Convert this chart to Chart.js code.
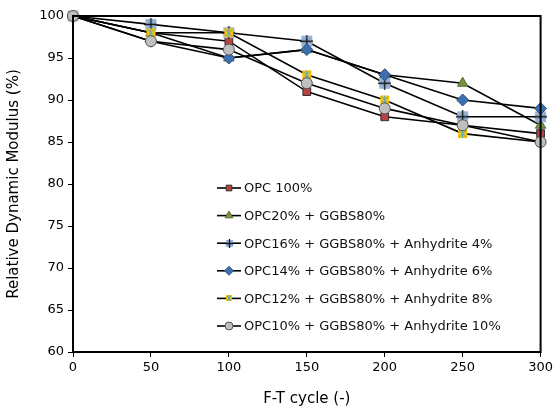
<!DOCTYPE html>
<html lang="en">
<head>
  <meta charset="UTF-8">
  <title>Relative Dynamic Modulus</title>
  <script src="https://cdn.jsdelivr.net/npm/chart.js"></script>
  <style>
    html, body { margin: 0; padding: 0; background: #fff; }
    #wrap { width: 556px; height: 408px; }
  </style>
</head>
<body>
  <div id="wrap"><canvas id="grafico" width="556" height="408"></canvas></div>
  <script>
    const ciclos = [0, 50, 100, 150, 200, 250, 300];
    const opc100 = [100, 98, 97, 91, 88, 87, 86];
    const opc20 = [100, 98, 95, 96, 93, 92, 87];
    const anh4 = [100, 99, 98, 97, 92, 88, 88];
    const anh6 = [100, 97, 95, 96, 93, 90, 89];
    const anh8 = [100, 98, 98, 93, 90, 86, 85];
    const anh10 = [100, 97, 96, 92, 89, 87, 85];
    const nomes = [
      'OPC 100%',
      'OPC20% + GGBS80%',
      'OPC16% + GGBS80% + Anhydrite 4%',
      'OPC14% + GGBS80% + Anhydrite 6%',
      'OPC12% + GGBS80% + Anhydrite 8%',
      'OPC10% + GGBS80% + Anhydrite 10%'
    ];

    // marcadores personalizados
    function quadradoCruz(t) {
      const c = document.createElement('canvas');
      c.width = t; c.height = t;
      const g = c.getContext('2d');
      const m = t / 2;
      g.fillStyle = '#95B3D7';
      g.fillRect(1, 1, t - 2, t - 2);
      g.strokeStyle = '#111';
      g.lineWidth = 1.3;
      g.beginPath();
      g.moveTo(m, 0); g.lineTo(m, t);
      g.moveTo(0, m); g.lineTo(t, m);
      g.stroke();
      return c;
    }
    function quadradoEstrela(t) {
      const c = document.createElement('canvas');
      c.width = t; c.height = t;
      const g = c.getContext('2d');
      const m = t / 2;
      g.fillStyle = '#FFC000';
      g.fillRect(1, 1, t - 2, t - 2);
      g.strokeStyle = '#4BACC6';
      g.lineWidth = 1;
      g.beginPath();
      g.moveTo(m, 1); g.lineTo(m, t - 1);
      g.moveTo(2, 2); g.lineTo(t - 2, t - 2);
      g.moveTo(t - 2, 2); g.lineTo(2, t - 2);
      g.stroke();
      return c;
    }

    const pontos = xs => ys => xs.map((x, i) => ({ x: x, y: ys[i] }));
    const p = pontos(ciclos);

    const estilos = [
      { pointStyle: 'rect', pointRadius: 5.5, pointBackgroundColor: '#B8423F', pointBorderColor: '#333' },
      { pointStyle: 'triangle', pointRadius: 6, pointBackgroundColor: '#77933C', pointBorderColor: '#556B2F' },
      { pointStyle: quadradoCruz(13), pointRadius: 6, legendaImg: quadradoCruz(9) },
      { pointStyle: 'rectRot', pointRadius: 6, pointBackgroundColor: '#3F6FAE', pointBorderColor: '#2C4F7C' },
      { pointStyle: quadradoEstrela(11), pointRadius: 5, legendaImg: quadradoEstrela(8) },
      { pointStyle: 'circle', pointRadius: 5.5, pointBackgroundColor: '#BFBFBF', pointBorderColor: '#555' }
    ];
    const series = [opc100, opc20, anh4, anh6, anh8, anh10];

    const datasets = series.map((s, i) => Object.assign({
      label: nomes[i],
      data: p(s),
      borderColor: '#000',
      borderWidth: 1.6,
      pointBorderWidth: 1,
      clip: false,
      order: 6 - i
    }, estilos[i]));

    const fonte = "'DejaVu Sans', Verdana, sans-serif";

    const moldura = {
      id: 'moldura',
      afterDatasetsDraw(chart) {
        const a = chart.chartArea, ctx = chart.ctx;
        ctx.save();
        ctx.strokeStyle = '#000';
        ctx.lineWidth = 2;
        ctx.strokeRect(a.left, a.top, a.right - a.left, a.bottom - a.top);
        ctx.restore();
      }
    };

    const legenda = {
      id: 'legenda',
      afterDraw(chart) {
        const a = chart.chartArea, ctx = chart.ctx;
        const x0 = a.left + 144, y0 = a.top + 172, passo = 27.6;
        ctx.save();
        ctx.font = '13px ' + fonte;
        ctx.textBaseline = 'middle';
        chart.data.datasets.forEach((ds, i) => {
          const y = y0 + i * passo;
          ctx.strokeStyle = '#000';
          ctx.lineWidth = 1.6;
          ctx.beginPath();
          ctx.moveTo(x0, y); ctx.lineTo(x0 + 24, y);
          ctx.stroke();
          if (ds.legendaImg) {
            const im = ds.legendaImg;
            ctx.drawImage(im, Math.round(x0 + 12 - im.width / 2), Math.round(y - im.height / 2));
          } else {
            ctx.fillStyle = ds.pointBackgroundColor;
            ctx.strokeStyle = ds.pointBorderColor;
            ctx.lineWidth = 1;
            Chart.helpers.drawPoint(ctx, { pointStyle: ds.pointStyle, radius: ds.pointRadius - 1.5, borderWidth: 1 }, x0 + 12, y);
          }
          ctx.fillStyle = '#111';
          ctx.fillText(ds.label, x0 + 27, y + 1);
        });
        ctx.restore();
      }
    };

    new Chart(document.getElementById('grafico'), {
      type: 'line',
      data: { datasets: datasets },
      options: {
        responsive: false,
        animation: false,
        layout: { padding: { top: 16, right: 15, left: 0, bottom: 0 } },
        plugins: { legend: { display: false }, tooltip: { enabled: false } },
        scales: {
          x: {
            type: 'linear',
            min: 0, max: 300,
            afterFit(s) { s.height = 56; },
            ticks: { stepSize: 50, color: '#000', font: { family: fonte, size: 13 }, padding: 3 },
            grid: { display: true, drawOnChartArea: false, drawTicks: true, tickLength: 5, color: '#000' },
            border: { color: '#000', width: 2 },
            title: { display: true, text: 'F-T cycle (-)', color: '#000', font: { family: fonte, size: 15 }, padding: { top: 0, bottom: 0 } }
          },
          y: {
            min: 60, max: 100,
            afterFit(s) { s.width = 73; },
            ticks: { stepSize: 5, color: '#000', font: { family: fonte, size: 13 }, padding: 4 },
            grid: { display: true, drawOnChartArea: false, drawTicks: true, tickLength: 5, color: '#000' },
            border: { color: '#000', width: 2 },
            title: { display: true, text: 'Relative Dynamic Modulus (%)', color: '#000', font: { family: fonte, size: 15 }, padding: { top: 5, bottom: 0 } }
          }
        }
      },
      plugins: [moldura, legenda]
    });
  </script>
</body>
</html>
